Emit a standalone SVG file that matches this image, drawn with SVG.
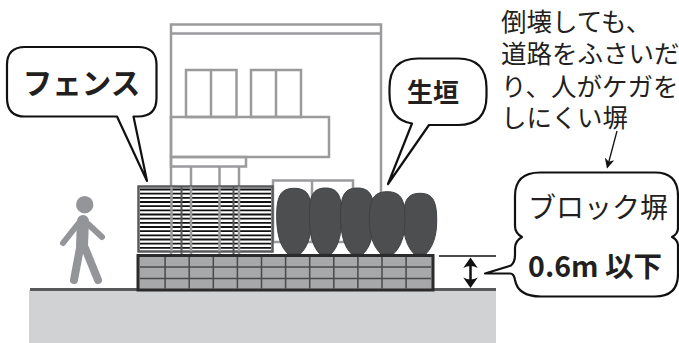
<svg xmlns="http://www.w3.org/2000/svg" width="679" height="343" viewBox="0 0 679 343">
  <style>
    .bldg { fill: none; stroke: #9a9b9d; stroke-width: 2.5; }
    .bubble { fill: #ffffff; stroke: #111111; stroke-width: 2.2; stroke-linejoin: round; }
    .txt { font-family: "Noto Sans CJK JP", "Noto Sans", sans-serif; fill: #231f20; }
    .bold { font-weight: 700; }
    .hedge { fill: #4d4e50; stroke: #3f4042; stroke-width: 1; }
    .person { stroke: #939598; stroke-linecap: round; fill: none; }
    .grid { stroke: #4a4a4c; stroke-width: 1.5; fill: none; }
  </style>
  <defs>
    <marker id="arrowhead" viewBox="0 0 10 10" refX="9" refY="5" markerWidth="10" markerHeight="10" markerUnits="userSpaceOnUse" orient="auto">
      <path d="M0,0 L10,5 L0,10 L3,5 Z" fill="#111111"/>
    </marker>
  </defs>

  <rect width="679" height="343" fill="#ffffff"/>

  <!-- house behind the fence -->
  <g id="house">
    <path class="bldg" d="M171,255 V24.5 H381 V255 M171,33.5 H381"/>
    <rect class="bldg" x="186" y="70" width="50.5" height="47"/>
    <path class="bldg" d="M211,70 V117"/>
    <rect class="bldg" x="251" y="70" width="50" height="47"/>
    <path class="bldg" d="M276,70 V117"/>
    <rect class="bldg" x="171" y="117" width="158" height="40"/>
    <rect class="bldg" x="171" y="157" width="75" height="9.5"/>
    <path class="bldg" d="M191,166.5 V255 M219.5,166.5 V255 M239,166.5 V255"/>
    <rect class="bldg" x="273" y="180.5" width="80" height="61.5"/>
    <path class="bldg" d="M312,180.5 V242"/>
  </g>

  <!-- slatted fence -->
  <g id="fence">
    <rect x="138.5" y="186.5" width="134" height="65" fill="#ffffff" stroke="#58595b" stroke-width="2.5"/>
    <path stroke="#111111" stroke-width="1.8" fill="none" d="M140,189.5 H271 M140,193.7 H271 M140,197.8 H271 M140,202 H271 M140,206.2 H271 M140,210.4 H271 M140,214.5 H271 M140,218.7 H271 M140,222.9 H271 M140,227 H271 M140,231.2 H271 M140,235.4 H271 M140,239.5 H271 M140,243.7 H271 M140,247.9 H271"/>
    <path stroke="#58595b" stroke-width="2" fill="none" d="M181.5,186.5 V256 M233.5,186.5 V256 M181.5,256 H233.5"/>
    <path class="bldg" d="M171.5,186.5 V251.5 M191,186.5 V251.5 M219.5,186.5 V251.5 M239,186.5 V251.5"/>
  </g>

  <!-- hedge shrubs -->
  <g id="hedge">
    <path class="hedge" d="M294.2,188.3 C309,188.3 311.7,198.3 311.7,216.3 C311.7,238 306.5,248 300.3,254 H288.1 C281.9,248 276.7,238 276.7,216.3 C276.7,198.3 279.4,188.3 294.2,188.3Z"/>
    <path class="hedge" d="M325.5,188 C339.3,188 341.7,198 341.7,216 C341.7,238 336.84,248 331.17,254 H319.83 C314.16,248 309.3,238 309.3,216 C309.3,198 311.7,188 325.5,188Z"/>
    <path class="hedge" d="M357.3,188 C371.5,188 374,198 374,216 C374,238 369,248 363.1,254 H351.5 C345.6,248 340.6,238 340.6,216 C340.6,198 343.1,188 357.3,188Z"/>
    <path class="hedge" d="M420,193.3 C434.2,193.3 436.7,203.3 436.7,221.3 C436.7,238 431.7,248 425.8,254 H414.2 C408.3,248 403.3,238 403.3,221.3 C403.3,203.3 405.8,193.3 420,193.3Z"/>
    <path class="hedge" d="M387.2,191.7 C402.3,191.7 405,201.7 405,219.7 C405,238 399.66,248 393.43,254 H380.97 C374.74,248 369.4,238 369.4,219.7 C369.4,201.7 372.1,191.7 387.2,191.7Z"/>
  </g>

  <!-- ground -->
  <g id="ground">
    <rect x="29" y="290.5" width="467" height="52.5" fill="#d1d2d4"/>
    <path d="M30,289.5 H496" stroke="#58595b" stroke-width="3"/>
  </g>

  <!-- low block wall -->
  <g id="block-wall">
    <rect x="138" y="255.5" width="295" height="34.5" fill="#a7a8aa" stroke="#2b2b2b" stroke-width="3"/>
    <path class="grid" d="M140,267 H431 M140,278.5 H431 M165.1,257 V288.5 M189.2,257 V288.5 M213.3,257 V288.5 M237.4,257 V288.5 M261.5,257 V288.5 M285.6,257 V288.5 M309.7,257 V288.5 M333.8,257 V288.5 M357.9,257 V288.5 M382,257 V288.5 M406.1,257 V288.5"/>
  </g>

  <!-- pedestrian -->
  <g id="pedestrian">
    <circle cx="84.7" cy="204.7" r="8.7" fill="#939598"/>
    <path class="person" stroke-width="12" d="M83,221 L82,245"/>
    <path class="person" stroke-width="6" d="M78,224 L63,243 M88,224 L102,237"/>
    <path class="person" stroke-width="8" d="M80,248 L74,280 M85,248 L98,280"/>
  </g>

  <!-- height dimension and leader arrow -->
  <g id="connectors">
    <path d="M439,256 H496" stroke="#111111" stroke-width="1.6"/>
    <path d="M470.5,265 V280" stroke="#111111" stroke-width="2.5"/>
    <path d="M470.5,257.5 L477.8,268 Q470.5,264 463.2,268 Z" fill="#111111"/>
    <path d="M470.5,288 L477.8,277.5 Q470.5,281.5 463.2,277.5 Z" fill="#111111"/>
    <path d="M617,131 L607.3,167.5" stroke="#111111" stroke-width="1.3" marker-end="url(#arrowhead)"/>
  </g>

  <!-- callout: fence -->
  <g id="callout-fence">
    <path class="bubble" d="M25,47 H138 Q156.5,47 156.5,65 V98 Q156.5,116.5 138,116.5 H133.5 L147,181 L117,116.5 H25 Q7,116.5 7,98 V65 Q7,47 25,47 Z"/>
    <text class="txt bold" x="81.5" y="93.5" font-size="29.5" text-anchor="middle">フェンス</text>
  </g>

  <!-- callout: hedge -->
  <g id="callout-hedge">
    <path class="bubble" d="M418,58.5 H458 Q486.5,58.5 486.5,88 V96 Q486.5,125 458,125 H429 L388,184 L412,123.5 Q389.5,120 389.5,94 V88 Q389.5,58.5 418,58.5 Z"/>
    <text class="txt bold" x="433" y="102" font-size="26" text-anchor="middle">生垣</text>
  </g>

  <!-- note above the block wall callout -->
  <g id="note">
    <text class="txt" x="501" y="31" font-size="25.5">倒壊しても、</text>
    <text class="txt" x="501" y="63" font-size="25.5">道路をふさいだ</text>
    <text class="txt" x="501" y="96" font-size="25.5">り、人がケガを</text>
    <text class="txt" x="501" y="127" font-size="25.5">しにくい塀</text>
  </g>

  <!-- callout: block wall -->
  <g id="callout-wall">
    <path class="bubble" d="M485,273.5 L511,265.5 Q515,262 515,255 V248 Q515,241 522,237 Q515,233 515,226 V196 Q515,172.5 540,172.5 H655 Q678,172.5 678,196 V228 Q678,234 672,237 Q678,240 678,246 V274 Q678,296.5 655,296.5 H541 Q518,296.5 515,280 Q514,273.5 510,273.5 Z"/>
    <text class="txt" x="598" y="218" font-size="28" text-anchor="middle">ブロック塀</text>
    <text class="txt bold" x="595" y="277" font-size="28.5" text-anchor="middle">0.6m 以下</text>
  </g>
</svg>
